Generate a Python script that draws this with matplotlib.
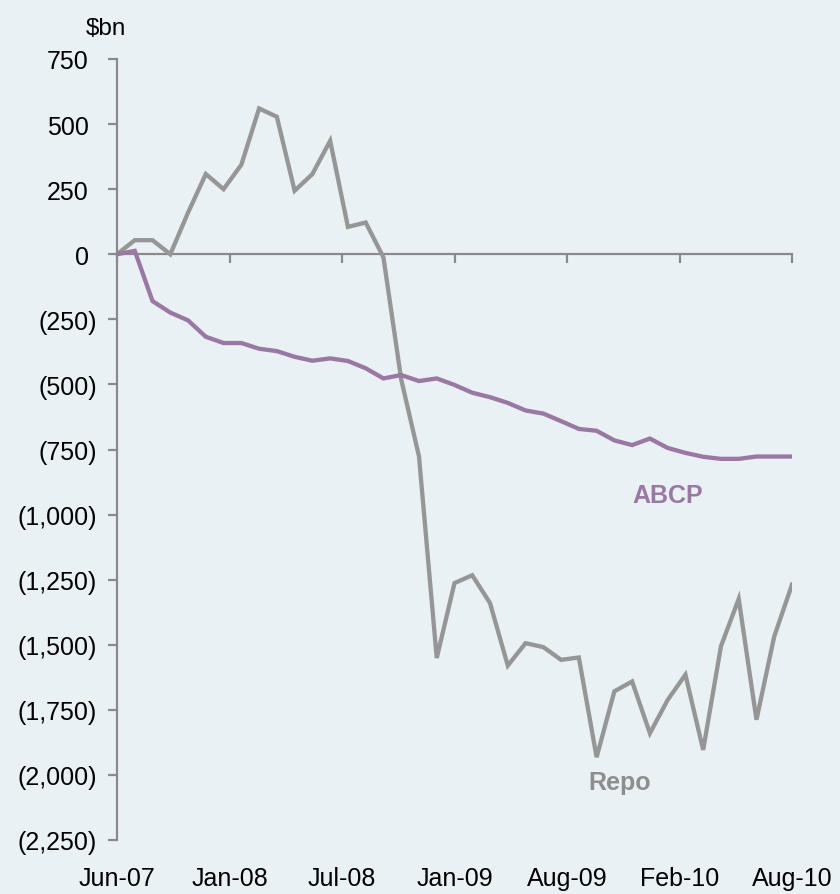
import matplotlib
matplotlib.use("Agg")
import matplotlib.pyplot as plt
import matplotlib.transforms as mtransforms
import numpy as np

# Cumulative change since Jun-07, monthly, $bn
repo = [0, 54, 54, 0, 160, 308, 250, 344, 560, 528,
        244, 308, 436, 105, 122, -12, -481, -776, -1551, -1263,
        -1233, -1340, -1580, -1494, -1509, -1558, -1549, -1932, -1679, -1641,
        -1840, -1712, -1615, -1904, -1506, -1324, -1788, -1468, -1269]
abcp = [0, 13, -180, -224, -254, -317, -341, -341, -363, -372,
        -394, -409, -400, -410, -438, -477, -464, -487, -477, -502,
        -532, -549, -571, -600, -612, -641, -671, -678, -715, -733,
        -708, -744, -763, -778, -786, -786, -777, -777, -777]
date_labels = ["Jun-07", "Jan-08", "Jul-08", "Jan-09", "Aug-09", "Feb-10", "Aug-10"]
y_ticks = list(range(-2250, 751, 250))

BG = "#EAF1F5"
GREY = "#969696"
PURPLE = "#9A78A4"
AXIS = "#8A8A8A"
FONT = "Liberation Sans"

plt.rcParams["font.family"] = [FONT, "DejaVu Sans"]

fig = plt.figure(figsize=(8.4, 8.95), dpi=100, facecolor=BG)
ax = fig.add_axes([117 / 840, 1 - 841 / 895, 675 / 840, 781 / 895])
ax.set_facecolor(BG)

x = np.arange(len(repo))
ax.plot(x, repo, color=GREY, lw=3.1, solid_joinstyle="miter", zorder=3)
ax.plot(x, abcp, color=PURPLE, lw=3.1, solid_joinstyle="miter", zorder=4)

ax.set_xlim(0, len(repo) - 1)
ax.set_ylim(-2250, 750)

for side in ("top", "right"):
    ax.spines[side].set_visible(False)
ax.spines["bottom"].set_position(("data", 0))
for side in ("left", "bottom"):
    ax.spines[side].set_color(AXIS)
    ax.spines[side].set_linewidth(1.6)

tick_pos = np.linspace(0, len(repo) - 1, len(date_labels))
ax.set_xticks(tick_pos)
ax.tick_params(axis="x", labelbottom=False, direction="out", length=6.5,
               width=1.6, color=AXIS)

def fmt(v):
    return f"({abs(v):,})" if v < 0 else f"{v:,}"

ax.set_yticks(y_ticks, labels=[fmt(v) for v in y_ticks])
ax.tick_params(axis="y", direction="out", length=6.5, width=1.6, color=AXIS,
               labelsize=18, labelcolor="black", pad=8)
# positive numbers keep room for the closing bracket of negatives
shift = mtransforms.ScaledTranslation(-8.3 / 100, 0, fig.dpi_scale_trans)
for v, lab in zip(y_ticks, ax.get_yticklabels()):
    if v >= 0:
        lab.set_transform(lab.get_transform() + shift)

sec = ax.secondary_xaxis("bottom")
sec.set_xticks(tick_pos, labels=date_labels)
sec.tick_params(length=0, pad=19, labelsize=18, labelcolor="black")
sec.spines["bottom"].set_visible(False)

ax.text(-0.016, 1.032, "$bn", transform=ax.transAxes, ha="center",
        va="baseline", fontsize=17.5, color="black")

ax.text(31.0, -950, "ABCP", color=PURPLE, fontsize=18, fontweight="bold",
        ha="center", va="baseline")
ax.text(28.3, -2054, "Repo", color="#8E8E8E", fontsize=18, fontweight="bold",
        ha="center", va="baseline")

fig.savefig("out.png", dpi=100, facecolor=BG)
